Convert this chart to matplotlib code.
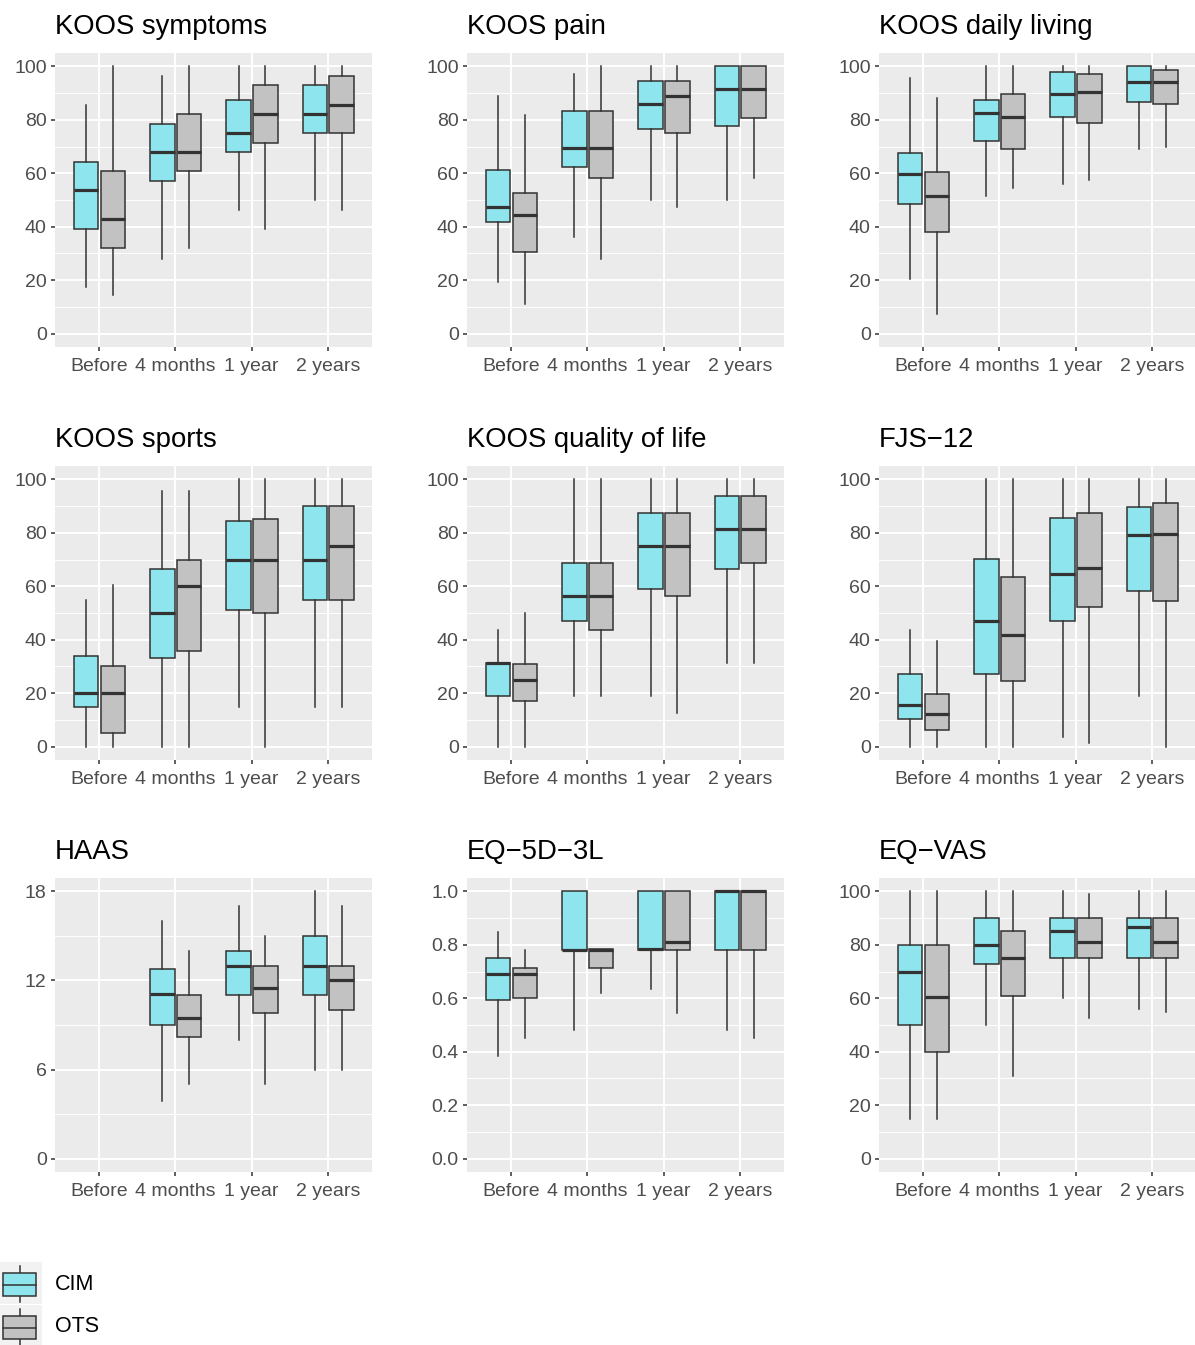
import matplotlib.pyplot as plt
from matplotlib.patches import Rectangle

plt.rcParams['font.family'] = ['Liberation Sans', 'DejaVu Sans']

timepoints = ['Before', '4 months', '1 year', '2 years']
groups = ['CIM', 'OTS']
fill = {'CIM': '#8EE5EE', 'OTS': '#C2C2C2'}

# (whisker low, q1, median, q3, whisker high) for each timepoint; None = not measured
symptoms_cim = [(17.5, 39, 53.6, 64.3, 85.7), (28, 57, 68, 78.6, 96.4), (46.4, 67.9, 75, 87.5, 100), (50, 75, 82.1, 92.9, 100)]
symptoms_ots = [(14.3, 32.1, 42.9, 60.7, 100), (32.1, 60.7, 67.9, 82.1, 100), (39.3, 71.4, 82.1, 92.9, 100), (46.4, 75, 85.7, 96.4, 100)]

pain_cim = [(19.4, 41.7, 47.2, 61.1, 88.9), (36.1, 62.5, 69.4, 83.3, 97.2), (50, 76.4, 86.1, 94.4, 100), (50, 77.8, 91.7, 100, 100)]
pain_ots = [(11.1, 30.6, 44.4, 52.8, 81.9), (27.8, 58.3, 69.4, 83.3, 100), (47.2, 75, 88.9, 94.4, 100), (58.3, 80.6, 91.7, 100, 100)]

daily_cim = [(20.6, 48.5, 59.6, 67.6, 95.6), (51.5, 72.1, 82.4, 87.5, 100), (55.9, 80.9, 89.7, 97.8, 100), (69.1, 86.8, 94.1, 100, 100)]
daily_ots = [(7.4, 38.2, 51.5, 60.3, 88.2), (54.4, 69.1, 80.9, 89.7, 100), (57.4, 78.7, 90.4, 97.1, 100), (69.9, 86.0, 94.1, 98.5, 100)]

sports_cim = [(0, 15, 20, 33.8, 55), (0, 33.1, 50, 66.5, 95.6), (15, 51.2, 70, 84.6, 100), (15, 55, 70, 90, 100)]
sports_ots = [(0, 5, 20, 30, 60.3), (0, 35.8, 60, 69.7, 95.6), (0, 50, 70, 85, 100), (15, 55, 75, 90, 100)]

qol_cim = [(0, 18.8, 31.3, 31.3, 43.8), (18.8, 46.9, 56.3, 68.8, 100), (18.8, 59.1, 75, 87.5, 100), (31.3, 66.4, 81.3, 93.8, 100)]
qol_ots = [(0, 17.2, 25, 31.1, 50), (18.8, 43.8, 56.3, 68.8, 100), (12.5, 56.3, 75, 87.5, 100), (31.3, 68.8, 81.3, 93.8, 100)]

fjs_cim = [(0, 10.4, 15.6, 27.1, 43.8), (0, 27.1, 46.9, 70.3, 100), (3.6, 46.9, 64.6, 85.4, 100), (18.8, 58.3, 79.2, 89.6, 100)]
fjs_ots = [(0, 6.3, 12.1, 19.8, 39.6), (0, 24.5, 41.7, 63.5, 100), (1.5, 52.1, 66.7, 87.5, 100), (0, 54.4, 79.6, 91.1, 100)]

haas_cim = [None, (3.9, 9, 11.1, 12.8, 16), (8, 11, 13, 14, 17), (6, 11, 13, 15, 18)]
haas_ots = [None, (5, 8.2, 9.5, 11, 14), (5, 9.8, 11.5, 13, 15), (6, 10, 12, 13, 17)]

eq5d_cim = [(0.385, 0.594, 0.689, 0.75, 0.848), (0.48, 0.779, 0.779, 1.0, 1.0), (0.634, 0.779, 0.785, 1.0, 1.0), (0.48, 0.779, 1.0, 1.0, 1.0)]
eq5d_ots = [(0.453, 0.6, 0.689, 0.715, 0.779), (0.62, 0.715, 0.779, 0.785, 0.785), (0.544, 0.779, 0.812, 1.0, 1.0), (0.453, 0.779, 1.0, 1.0, 1.0)]

vas_cim = [(15, 50, 70, 80, 100), (50, 73, 80, 90, 100), (60, 75, 85, 90, 100), (56, 75, 86.5, 90, 100)]
vas_ots = [(15, 40, 60.5, 80, 100), (31, 61, 75, 85, 100), (52.5, 75, 81, 90, 99), (55, 75, 81, 90, 100)]

pct_ticks = [0, 20, 40, 60, 80, 100]
panels = [
    ('KOOS symptoms', symptoms_cim, symptoms_ots, pct_ticks, '%d'),
    ('KOOS pain', pain_cim, pain_ots, pct_ticks, '%d'),
    ('KOOS daily living', daily_cim, daily_ots, pct_ticks, '%d'),
    ('KOOS sports', sports_cim, sports_ots, pct_ticks, '%d'),
    ('KOOS quality of life', qol_cim, qol_ots, pct_ticks, '%d'),
    ('FJS\u221212', fjs_cim, fjs_ots, pct_ticks, '%d'),
    ('HAAS', haas_cim, haas_ots, [0, 6, 12, 18], '%d'),
    ('EQ\u22125D\u22123L', eq5d_cim, eq5d_ots, [0, 0.2, 0.4, 0.6, 0.8, 1.0], '%.1f'),
    ('EQ\u2212VAS', vas_cim, vas_ots, pct_ticks, '%d'),
]

W, H = 1195, 1345
fig = plt.figure(figsize=(W / 100, H / 100), dpi=100)

col_left = [55, 467, 879]
row_top = [53, 466, 878]
pw, ph = 317, 294
box_w = 0.32
offset = {'CIM': -0.17, 'OTS': 0.18}
edge = '#333333'

for i, (title, cim, ots, ticks, fmt) in enumerate(panels):
    r, c = divmod(i, 3)
    ax = fig.add_axes([col_left[c] / W, 1 - (row_top[r] + ph) / H, pw / W, ph / H])
    ax.set_facecolor('#EBEBEB')
    for s in ax.spines.values():
        s.set_visible(False)

    for g, data in (('CIM', cim), ('OTS', ots)):
        stats, pos = [], []
        for k, v in enumerate(data):
            if v is None:
                continue
            lo, q1, med, q3, hi = v
            stats.append(dict(whislo=lo, q1=q1, med=med, q3=q3, whishi=hi, fliers=[]))
            pos.append(k + 1 + offset[g])
        ax.bxp(stats, positions=pos, widths=box_w, patch_artist=True, showcaps=False,
               showfliers=False, manage_ticks=False,
               boxprops=dict(facecolor=fill[g], edgecolor=edge, linewidth=1.1),
               whiskerprops=dict(color=edge, linewidth=1.1),
               medianprops=dict(color=edge, linewidth=2.3, solid_capstyle='butt'))

    span = ticks[-1] - ticks[0]
    ax.set_ylim(ticks[0] - 0.05 * span, ticks[-1] + 0.05 * span)
    ax.set_yticks(ticks)
    ax.set_yticklabels([fmt % t for t in ticks])
    step = ticks[1] - ticks[0]
    ax.set_yticks([t + step / 2 for t in ticks[:-1]], minor=True)
    ax.set_xlim(0.42, 4.58)
    ax.set_xticks(range(1, 5))
    ax.set_xticklabels(timepoints)

    ax.grid(True, which='major', color='white', linewidth=1.4)
    ax.grid(True, which='minor', axis='y', color='white', linewidth=0.7)
    ax.set_axisbelow(True)
    ax.tick_params(which='major', length=3, width=1.1, color=edge, labelcolor='#4D4D4D',
                   labelsize=14, pad=3)
    ax.tick_params(axis='x', pad=5)
    ax.tick_params(which='minor', length=0)
    ax.set_title(title, loc='left', fontsize=19.8, pad=14, color='black')

# legend keys
leg = fig.add_axes([0, 0, 1, 1])
leg.set_xlim(0, W)
leg.set_ylim(H, 0)
leg.axis('off')
for g, top in (('CIM', 1262), ('OTS', 1305)):
    leg.add_patch(Rectangle((0, top), 42, 42, facecolor='#F2F2F2', edgecolor='none', zorder=1))
    leg.plot([20, 20], [top + 4, top + 40], color=edge, lw=1.1, zorder=2)
    leg.add_patch(Rectangle((3.5, top + 11), 33, 23, facecolor=fill[g], edgecolor=edge, lw=1.1, zorder=3))
    leg.plot([3.5, 36.5], [top + 22.5, top + 22.5], color=edge, lw=1.1, zorder=4)
    leg.text(55, top + 22, g, fontsize=15.5, va='center', ha='left', color='black')

fig.savefig('out.png', dpi=100)
